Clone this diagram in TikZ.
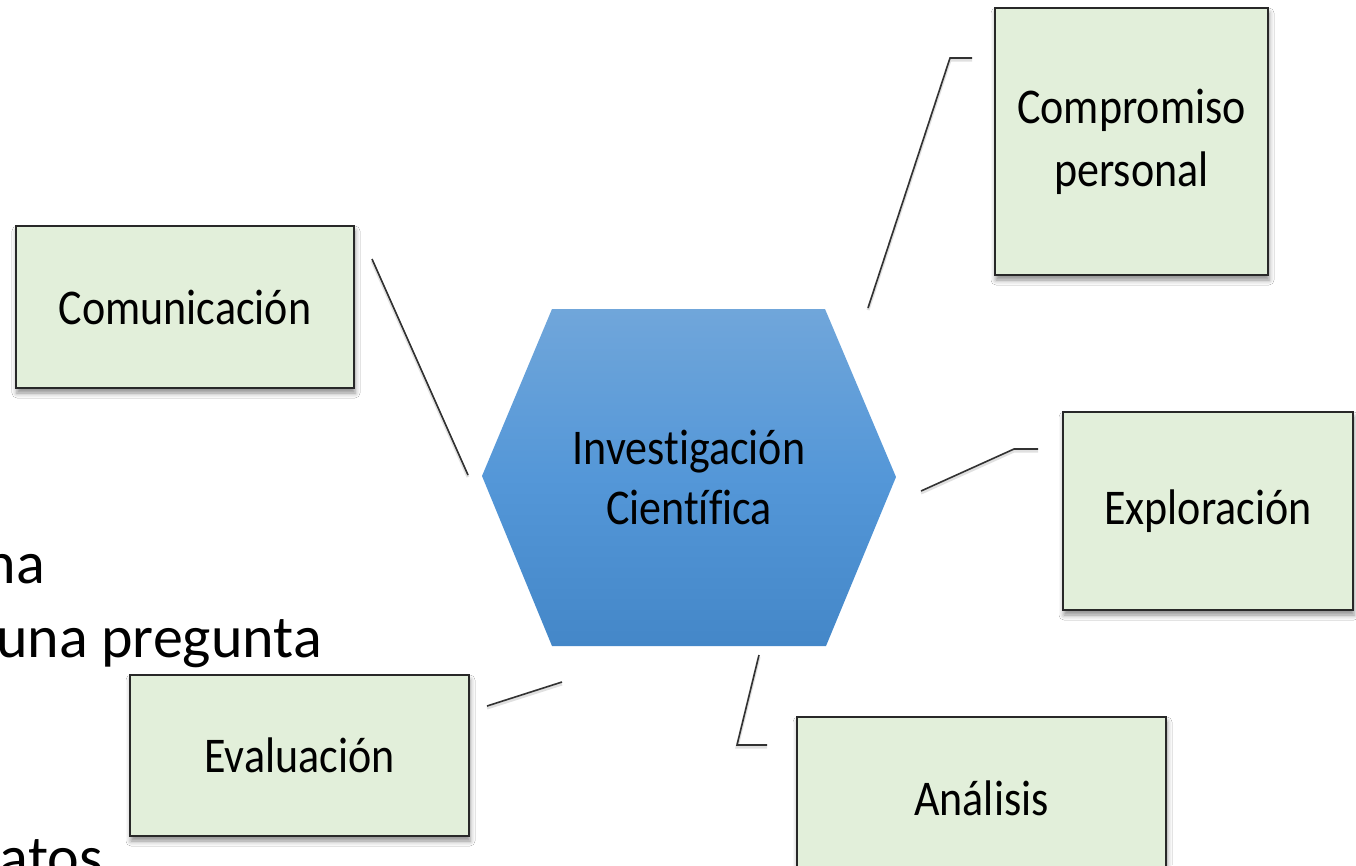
\documentclass[tikz,border=0pt]{standalone}
\usepackage{fontspec}
\setmainfont[FakeStretch=0.88,Ligatures=CommonOff]{Carlito}
\newfontfamily\slidefont{Carlito}
\usetikzlibrary{shadows.blur}
\definecolor{boxgreen}{RGB}{226,239,218}
\definecolor{boxline}{RGB}{40,40,40}
\definecolor{hextop}{RGB}{112,166,218}
\definecolor{hexmid}{RGB}{84,151,216}
\definecolor{hexbot}{RGB}{68,135,200}
\definecolor{linegray}{RGB}{50,50,50}
\tikzset{
    stagebox/.style={draw=boxline,line width=2pt,fill=boxgreen,inner sep=0pt,align=center,
        font=\fontsize{50}{63}\selectfont,
        blur shadow={shadow xshift=1pt,shadow yshift=-5pt,shadow blur radius=5pt,shadow opacity=45}},
    conn/.style={draw=linegray,line width=1.6pt,
        preaction={draw=black!30,line width=3pt,opacity=0.4,transform canvas={yshift=-2pt}}},
    sidetext/.style={anchor=base east,inner sep=0pt,font=\slidefont\fontsize{60}{70}\selectfont}
}

\begin{document}
\begin{tikzpicture}[x=1pt,y=-1pt]
    \clip (0,0) rectangle (1356,865);
    \fill[white] (0,0) rectangle (1356,865);

    % text left behind the diagram
    \node[sidetext] (frag1) at (45,583) {na};
    \node[sidetext] (frag2) at (322,657) {una pregunta};
    \node[sidetext] (frag3) at (103,877) {atos};

    % centre hexagon
    \path[top color=hextop,bottom color=hexbot,middle color=hexmid]
        (552,309)--(825,309)--(896,477)--(826,646)--(552,646)--(482,476)--cycle;
    \node[align=center,font=\fontsize{50}{60}\selectfont] (ic) at (689,477) {Investigación\\Científica};

    % boxes
    \node[stagebox,minimum width=338pt,minimum height=162pt] (com) at (185,307) {Comunicación};
    \node[stagebox,minimum width=273pt,minimum height=267pt] (comp) at (1131.5,141.5) {Compromiso\\personal};
    \node[stagebox,minimum width=290pt,minimum height=198pt] (expl) at (1208,511) {Exploración};
    \node[stagebox,minimum width=369pt,minimum height=163pt] (anal) at (981.5,798.5) {Análisis};
    \node[stagebox,minimum width=339pt,minimum height=161pt] (eval) at (299.5,755.5) {Evaluación};

    % connectors
    \coordinate (com-a) at (372,259);
    \coordinate (com-b) at (468,475);
    \coordinate (comp-a) at (868,308);
    \coordinate (comp-b) at (950,58);
    \coordinate (comp-c) at (972,58);
    \coordinate (expl-a) at (921,491);
    \coordinate (expl-b) at (1014,449);
    \coordinate (expl-c) at (1038,449);
    \coordinate (anal-a) at (759,655);
    \coordinate (anal-b) at (737,745);
    \coordinate (anal-c) at (767,745);
    \coordinate (eval-a) at (487,706);
    \coordinate (eval-b) at (562,682);
    \draw[conn] (com-a)--(com-b);
    \draw[conn] (comp-a)--(comp-b)--(comp-c);
    \draw[conn] (expl-a)--(expl-b)--(expl-c);
    \draw[conn] (anal-a)--(anal-b)--(anal-c);
    \draw[conn] (eval-a)--(eval-b);
\end{tikzpicture}
\end{document}
